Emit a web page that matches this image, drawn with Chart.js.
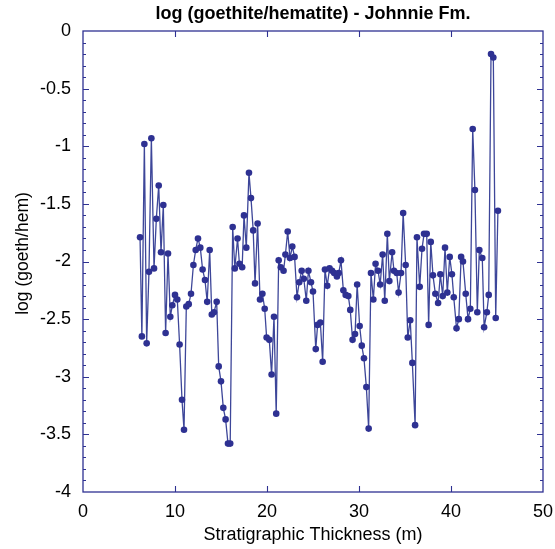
<!DOCTYPE html>
<html>
<head>
<meta charset="utf-8">
<script src="https://cdn.jsdelivr.net/npm/chart.js@4.4.1/dist/chart.umd.min.js"></script>
<style>
	html, body { margin: 0; padding: 0; background: #ffffff; }
	#chart-container { width: 555px; height: 549px; }
</style>
</head>
<body>
<div id="chart-container"><canvas id="myChart"></canvas></div>
<script>
	//Chart Data - Stratigraphic Thickness (m)
	var thickness = [
		6.2, 6.4, 6.67, 6.92, 7.17, 7.43, 7.72, 7.97, 8.23, 8.48,
		8.73, 8.98, 9.24, 9.49, 9.71, 10.0, 10.25, 10.5, 10.76, 10.98,
		11.23, 11.49, 11.74, 12.0, 12.25, 12.5, 12.75, 13.0, 13.26, 13.5,
		13.77, 14.0, 14.24, 14.53, 14.75, 15.0, 15.25, 15.5, 15.76, 16.0,
		16.27, 16.5, 16.8, 17.0, 17.3, 17.5, 17.75, 18.04, 18.26, 18.5,
		18.7, 18.98, 19.24, 19.5, 19.75, 19.96, 20.25, 20.5, 20.76, 21.0,
		21.27, 21.5, 21.8, 22.0, 22.25, 22.5, 22.75, 23.0, 23.26, 23.5,
		23.77, 24.0, 24.27, 24.5, 24.78, 25.0, 25.3, 25.5, 25.8, 26.05,
		26.3, 26.55, 26.8, 27.07, 27.3, 27.6, 27.8, 28.04, 28.3, 28.55,
		28.84, 29.05, 29.3, 29.57, 29.8, 30.07, 30.3, 30.54, 30.8, 31.05,
		31.3, 31.56, 31.8, 32.07, 32.3, 32.57, 32.8, 33.08, 33.3, 33.6,
		33.8, 34.1, 34.3, 34.57, 34.8, 35.07, 35.3, 35.57, 35.8, 36.1,
		36.3, 36.6, 36.85, 37.07, 37.36, 37.57, 37.8, 38.04, 38.3, 38.6,
		38.84, 39.1, 39.35, 39.6, 39.86, 40.1, 40.3, 40.6, 40.85, 41.1,
		41.3, 41.6, 41.85, 42.1, 42.36, 42.6, 42.86, 43.08, 43.4, 43.6,
		43.9, 44.1, 44.35, 44.6, 44.86, 45.1
	];
	//Chart Data - log (goethite/hematite)
	var logRatio = [
		-1.79, -2.65, -0.98, -2.71, -2.09, -0.93, -2.06, -1.63, -1.34, -1.92,
		-1.51, -2.62, -1.93, -2.48, -2.38, -2.29, -2.33, -2.72, -3.20, -3.46,
		-2.39, -2.37, -2.28, -2.03, -1.90, -1.80, -1.88, -2.07, -2.16, -2.35,
		-1.90, -2.46, -2.44, -2.35, -2.91, -3.04, -3.27, -3.37, -3.58, -3.58,
		-1.70, -2.06, -1.80, -2.02, -2.05, -1.60, -1.88, -1.23, -1.45, -1.73,
		-2.19, -1.67, -2.33, -2.28, -2.41, -2.66, -2.68, -2.98, -2.48, -3.32,
		-1.99, -2.05, -2.08, -1.94, -1.74, -1.97, -1.87, -1.96, -2.31, -2.18,
		-2.08, -2.15, -2.34, -2.08, -2.18, -2.26, -2.76, -2.55, -2.53, -2.87,
		-2.07, -2.21, -2.06, -2.08, -2.10, -2.13, -2.10, -1.99, -2.25, -2.29,
		-2.30, -2.42, -2.68, -2.63, -2.20, -2.56, -2.73, -2.84, -3.09, -3.45,
		-2.10, -2.33, -2.02, -2.08, -2.20, -1.94, -2.34, -1.76, -2.17, -1.92,
		-2.08, -2.10, -2.27, -2.10, -1.58, -2.03, -2.66, -2.51, -2.88, -3.42,
		-1.79, -2.22, -1.89, -1.76, -1.76, -2.55, -1.83, -2.12, -2.28, -2.36,
		-2.11, -2.30, -1.88, -2.27, -1.96, -2.11, -2.31, -2.58, -2.50, -1.96,
		-2.00, -2.28, -2.50, -2.41, -0.85, -1.38, -2.44, -1.90, -1.97, -2.57,
		-2.44, -2.29, -0.20, -0.23, -2.49, -1.56
	];
	//Axis Labels
	var chartTitle = "log (goethite/hematite) - Johnnie Fm.";
	var xAxisTitle = "Stratigraphic Thickness (m)";
	var yAxisTitle = "log (goeth/hem)";

	var navy = "#2e3192";

	//Build Points
	var points = [];
	for (var i = 0; i < thickness.length; i++) {
		points.push({ x: thickness[i], y: logRatio[i] });
	}

	//Frame, Inside Tick Marks and Titles
	var framePlugin = {
		id: 'frameTicks',
		afterDraw: function (chart) {
			var ctx = chart.ctx;
			var area = chart.chartArea;
			var xs = chart.scales.x;
			var ys = chart.scales.y;
			ctx.save();
			ctx.strokeStyle = navy;
			ctx.lineWidth = 1.3;
			ctx.strokeRect(area.left, area.top, area.right - area.left, area.bottom - area.top);
			ctx.lineWidth = 1.1;
			ctx.beginPath();
			//X Ticks
			for (var v = 10; v < 50; v += 10) {
				var px = Math.round(xs.getPixelForValue(v)) + 0.5;
				ctx.moveTo(px, area.bottom);
				ctx.lineTo(px, area.bottom - 6);
				ctx.moveTo(px, area.top);
				ctx.lineTo(px, area.top + 6);
			}
			//Y Ticks
			for (var k = 1; k < 40; k++) {
				var py = Math.round(ys.getPixelForValue(-k / 10)) + 0.5;
				var len = (k % 5 == 0) ? 6 : 3;
				ctx.moveTo(area.left, py);
				ctx.lineTo(area.left + len, py);
				ctx.moveTo(area.right, py);
				ctx.lineTo(area.right - len, py);
			}
			ctx.stroke();

			//Chart Title - centred over the plot box
			ctx.fillStyle = "#000000";
			ctx.textAlign = "center";
			ctx.textBaseline = "middle";
			ctx.font = "bold 18px 'Liberation Sans'";
			ctx.fillText(chartTitle, (area.left + area.right) / 2, 14.5);

			//Y Axis Title
			ctx.font = "17.5px 'Liberation Sans'";
			ctx.translate(23.2, (area.top + area.bottom) / 2 - 8);
			ctx.rotate(-Math.PI / 2);
			ctx.fillText(yAxisTitle, 0, 0);
			ctx.restore();
		}
	};

	var ctx = document.getElementById('myChart').getContext("2d");
	var myChart = new Chart(ctx, {
		type: 'scatter',
		data: {
			datasets: [{
				label: "log (goethite/hematite)",
				data: points,
				showLine: true,
				borderColor: "#3d4699",
				borderWidth: 1.3,
				backgroundColor: navy,
				pointBackgroundColor: navy,
				pointBorderColor: navy,
				pointBorderWidth: 0,
				pointRadius: 3.3,
				tension: 0
			}]
		},
		plugins: [framePlugin],
		options: {
			responsive: true,
			maintainAspectRatio: false,
			animation: false,
			layout: { padding: { left: 0, right: 12, top: 31, bottom: 0 } },
			plugins: {
				legend: { display: false },
				tooltip: { enabled: false },
				title: { display: false }
			},
			scales: {
				x: {
					type: 'linear',
					min: 0,
					max: 50,
					afterFit: function (scale) {
						scale.height = 57;
						scale.paddingLeft = 0;
						scale.paddingRight = 0;
					},
					ticks: {
						stepSize: 10,
						color: "#000000",
						padding: 9,
						font: { family: "Liberation Sans", size: 18 }
					},
					grid: { display: false, drawTicks: false },
					border: { display: false },
					title: {
						display: true,
						text: xAxisTitle,
						color: "#000000",
						font: { family: "Liberation Sans", size: 18 },
						padding: { top: 0, bottom: 3 }
					}
				},
				y: {
					type: 'linear',
					min: -4,
					max: 0,
					afterFit: function (scale) {
						scale.width = 83;
						scale.paddingTop = 0;
						scale.paddingBottom = 0;
					},
					ticks: {
						stepSize: 0.5,
						color: "#000000",
						padding: 12,
						font: { family: "Liberation Sans", size: 18 },
						callback: function (value) { return String(value); }
					},
					grid: { display: false, drawTicks: false },
					border: { display: false },
					title: { display: false }
				}
			}
		}
	});
</script>
</body>
</html>
